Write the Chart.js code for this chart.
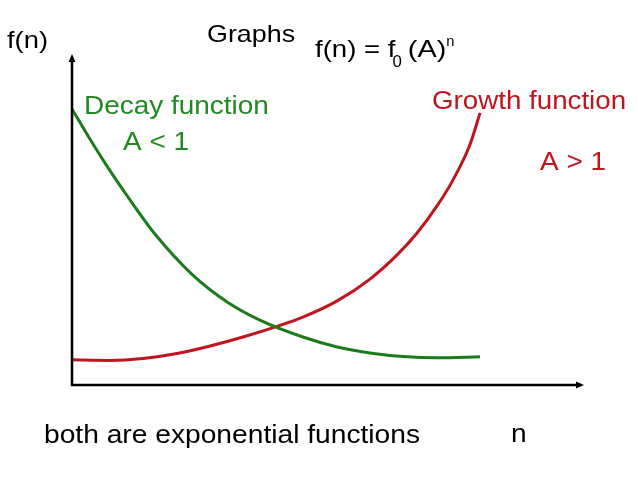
<!DOCTYPE html>
<html>
<head>
<meta charset="utf-8">
<script src="https://cdn.jsdelivr.net/npm/chart.js@4/dist/chart.umd.min.js"></script>
<style>
  html, body { margin: 0; padding: 0; background: #fff; }
  #wrap { width: 638px; height: 479px; position: relative; }
</style>
</head>
<body>
<div id="wrap"><canvas id="c"></canvas></div>
<script>
// ---- data (n and f(n) in arbitrary units 0..10) ----
const decayN = [0, 0.35, 0.68, 1.04, 1.62, 2.36, 3.03, 3.67, 4.51, 5.18, 5.82, 6.47, 7.13, 7.97];
const decayF = [8.34, 7.43, 6.62, 5.80, 4.56, 3.32, 2.51, 1.96, 1.45, 1.15, 0.97, 0.86, 0.82, 0.85];
const growthN = [0, 0.74, 1.39, 2.05, 2.70, 3.34, 4.02, 4.51, 5.18, 5.82, 6.35, 6.74, 7.13, 7.44, 7.77, 7.97];
const growthF = [0.76, 0.74, 0.80, 0.95, 1.18, 1.45, 1.78, 2.05, 2.54, 3.20, 3.93, 4.59, 5.41, 6.19, 7.25, 8.22];
const axisMin = 0, axisMax = 10;

const GREEN = '#1c7c1c';
const GREEN_TXT = '#218a21';
const RED = '#c0141e';

function pts(xs, ys) { return xs.map((x, i) => ({ x: x, y: ys[i] })); }

function drawText(ctx, txt, x, y, size, color, sx) {
  ctx.save();
  ctx.font = size + 'px "Liberation Sans", Arial, sans-serif';
  ctx.fillStyle = color;
  ctx.textBaseline = 'alphabetic';
  ctx.textAlign = 'left';
  ctx.translate(x, y);
  ctx.scale(sx, 1);
  ctx.fillText(txt, 0, 0);
  const w = ctx.measureText(txt).width * sx;
  ctx.restore();
  return w;
}

const decor = {
  id: 'decor',
  afterDatasetsDraw(chart) {
    const ctx = chart.ctx;
    const xs = chart.scales.x, ys = chart.scales.y;
    const x0 = xs.getPixelForValue(axisMin), x1 = xs.getPixelForValue(axisMax);
    const y0 = ys.getPixelForValue(axisMin), y1 = ys.getPixelForValue(axisMax);
    ctx.save();
    ctx.strokeStyle = '#000';
    ctx.fillStyle = '#000';
    ctx.lineWidth = 2.5;
    ctx.lineCap = 'butt';
    ctx.beginPath();
    ctx.moveTo(x0, y0 + 1); ctx.lineTo(x0, y1 + 5);
    ctx.moveTo(x0 - 1, y0); ctx.lineTo(x1 - 5, y0);
    ctx.stroke();
    // arrow heads
    ctx.beginPath();
    ctx.moveTo(x0, y1); ctx.lineTo(x0 - 3.5, y1 + 8); ctx.lineTo(x0 + 3.5, y1 + 8); ctx.closePath();
    ctx.fill();
    ctx.beginPath();
    ctx.moveTo(x1, y0); ctx.lineTo(x1 - 8, y0 - 3.5); ctx.lineTo(x1 - 8, y0 + 3.5); ctx.closePath();
    ctx.fill();
    ctx.restore();

    // texts
    drawText(ctx, 'f(n)', 7, 48, 24, '#000', 1.14);
    drawText(ctx, 'Graphs', 207, 42, 24, '#000', 1.12);
    let fx = 315;
    fx += drawText(ctx, 'f(n) = f', fx, 57, 24, '#000', 1.15);
    fx -= 3;
    fx += drawText(ctx, '0', fx, 67, 16, '#000', 1.05);
    fx -= 2;
    fx += drawText(ctx, ' (A)', fx, 57, 24, '#000', 1.2);
    drawText(ctx, 'n', fx, 46, 14, '#000', 1.05);

    drawText(ctx, 'Decay function', 84, 114, 26, GREEN_TXT, 1.075);
    drawText(ctx, 'A < 1', 123, 150, 26, GREEN_TXT, 1.075);
    drawText(ctx, 'Growth function', 432, 109, 26, RED, 1.066);
    drawText(ctx, 'A > 1', 540, 170, 26, RED, 1.075);
    drawText(ctx, 'both are exponential functions', 44, 443, 26, '#000', 1.084);
    drawText(ctx, 'n', 511, 442, 26, '#000', 1.08);
  }
};

new Chart(document.getElementById('c'), {
  type: 'line',
  data: {
    datasets: [
      { label: 'Decay function', data: pts(decayN, decayF), borderColor: GREEN, borderWidth: 3,
        pointRadius: 0, cubicInterpolationMode: 'monotone', fill: false },
      { label: 'Growth function', data: pts(growthN, growthF), borderColor: RED, borderWidth: 3,
        pointRadius: 0, cubicInterpolationMode: 'monotone', fill: false }
    ]
  },
  options: {
    responsive: true,
    maintainAspectRatio: false,
    animation: false,
    layout: { padding: { left: 72, right: 54, top: 54, bottom: 94 } },
    plugins: { legend: { display: false }, tooltip: { enabled: false }, title: { display: false } },
    scales: {
      x: { type: 'linear', min: axisMin, max: axisMax, display: false },
      y: { type: 'linear', min: axisMin, max: axisMax, display: false }
    },
    events: []
  },
  plugins: [decor]
});
</script>
</body>
</html>
